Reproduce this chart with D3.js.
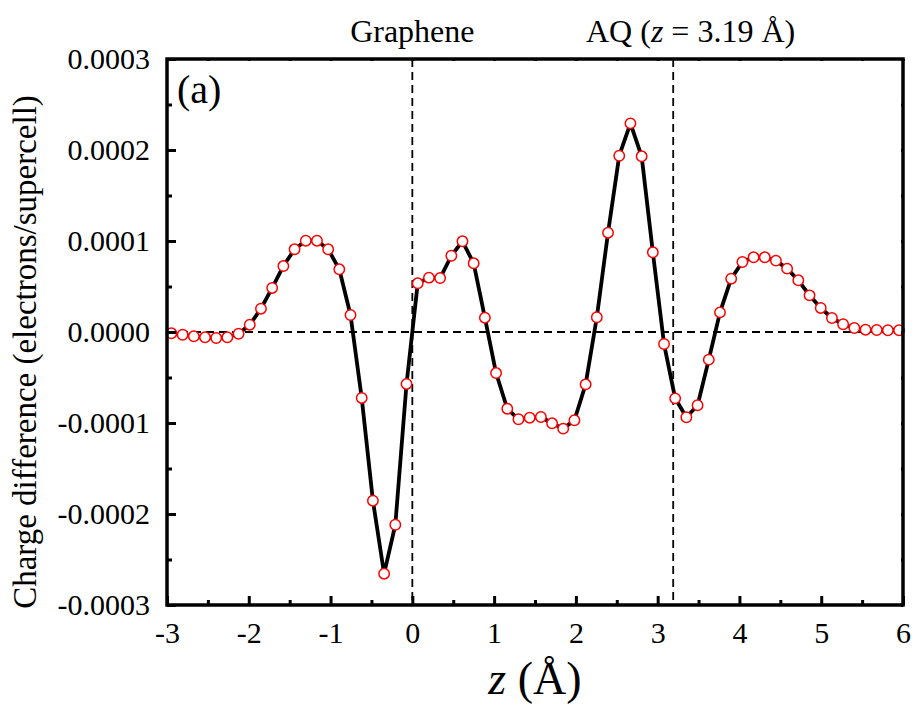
<!DOCTYPE html>
<html>
  <head>
    <meta charset="utf-8">
    <style>
      body {
        margin: 0;
        background: white;
        font-family: "Liberation Serif", "Times New Roman", serif;
      }
      svg text {
        font-family: "Liberation Serif", "Times New Roman", serif;
        fill: black;
      }
    </style>
    <script src="https://cdn.jsdelivr.net/npm/d3@7"></script>
  </head>
  <body>
    <svg id="chart"></svg>
  </body>
  <script>
    // z positions (Å) of the sampled points
    const zValues = [
      -2.946, -2.809, -2.672, -2.535, -2.398, -2.262, -2.125, -1.988, -1.851, -1.714,
      -1.577, -1.440, -1.303, -1.166, -1.029, -0.893, -0.756, -0.619, -0.482, -0.345,
      -0.208, -0.071, 0.066, 0.203, 0.340, 0.477, 0.613, 0.750, 0.887, 1.024,
      1.161, 1.298, 1.435, 1.572, 1.709, 1.845, 1.982, 2.119, 2.256, 2.393,
      2.530, 2.667, 2.804, 2.941, 3.078, 3.214, 3.351, 3.488, 3.625, 3.762,
      3.899, 4.036, 4.173, 4.310, 4.446, 4.583, 4.720, 4.857, 4.994, 5.131,
      5.268, 5.405, 5.542, 5.679, 5.815, 5.952
    ];
    // charge difference (electrons/supercell)
    const chargeDiff = [
      -0.014e-4, -0.030e-4, -0.047e-4, -0.058e-4, -0.066e-4, -0.058e-4, -0.019e-4, 0.080e-4, 0.256e-4, 0.484e-4,
      0.725e-4, 0.909e-4, 1.003e-4, 1.003e-4, 0.909e-4, 0.689e-4, 0.187e-4, -0.725e-4, -1.854e-4, -2.656e-4,
      -2.118e-4, -0.571e-4, 0.535e-4, 0.597e-4, 0.593e-4, 0.838e-4, 0.997e-4, 0.755e-4, 0.157e-4, -0.451e-4,
      -0.843e-4, -0.959e-4, -0.942e-4, -0.934e-4, -1.003e-4, -1.062e-4, -0.970e-4, -0.575e-4, 0.162e-4, 1.091e-4,
      1.937e-4, 2.293e-4, 1.931e-4, 0.876e-4, -0.132e-4, -0.729e-4, -0.937e-4, -0.805e-4, -0.304e-4, 0.216e-4,
      0.586e-4, 0.769e-4, 0.821e-4, 0.821e-4, 0.784e-4, 0.696e-4, 0.568e-4, 0.403e-4, 0.264e-4, 0.154e-4,
      0.085e-4, 0.044e-4, 0.025e-4, 0.022e-4, 0.019e-4, 0.019e-4
    ];

    const xTicks = [-3, -2, -1, 0, 1, 2, 3, 4, 5, 6];
    const xMinorTicks = [-2.5, -1.5, -0.5, 0.5, 1.5, 2.5, 3.5, 4.5, 5.5];
    const yTicks = [-0.0003, -0.0002, -0.0001, 0, 0.0001, 0.0002, 0.0003];
    const yMinorTicks = [-0.00025, -0.00015, -0.00005, 0.00005, 0.00015, 0.00025];
    const markerLines = [0, 3.19]; // graphene plane and AQ position

    let width = 915;
    let height = 706;
    let margin = { top: 59, left: 167, right: 12, bottom: 101 };
    let bodyWidth = width - margin.left - margin.right;
    let bodyHeight = height - margin.top - margin.bottom;
    let serif = '"Liberation Serif", "Times New Roman", serif';

    let svg = d3.select("#chart").attr("width", width).attr("height", height);
    let body = svg.append("g").attr("transform", `translate(${margin.left},${margin.top})`);

    let xScale = d3.scaleLinear().domain([-3, 6]).range([0, bodyWidth]);
    let yScale = d3.scaleLinear().domain([-0.0003, 0.0003]).range([bodyHeight, 0]);

    // dashed reference lines
    body.append("line")
      .attr("x1", 0).attr("x2", bodyWidth)
      .attr("y1", yScale(0)).attr("y2", yScale(0))
      .attr("stroke", "black").attr("stroke-width", 1.8)
      .attr("stroke-dasharray", "8,5");

    body.selectAll(".vline")
      .data(markerLines)
      .enter()
      .append("line")
      .attr("class", "vline")
      .attr("x1", (d) => xScale(d)).attr("x2", (d) => xScale(d))
      .attr("y1", 0).attr("y2", bodyHeight)
      .attr("stroke", "black").attr("stroke-width", 1.8)
      .attr("stroke-dasharray", "8,5");

    let points = zValues.map((z, i) => ({ z: z, v: chargeDiff[i] }));

    let line = d3.line()
      .x((d) => xScale(d.z))
      .y((d) => yScale(d.v));

    body.append("path")
      .datum(points)
      .attr("d", line)
      .attr("fill", "none")
      .attr("stroke", "black")
      .attr("stroke-width", 3.8)
      .attr("stroke-linejoin", "round");

    body.selectAll(".pt")
      .data(points)
      .enter()
      .append("circle")
      .attr("class", "pt")
      .attr("cx", (d) => xScale(d.z))
      .attr("cy", (d) => yScale(d.v))
      .attr("r", 5.2)
      .attr("fill", "white")
      .attr("stroke", "#ff0000")
      .attr("stroke-width", 1.5);

    // axes, ticks pointing inward
    function styleAxis(g) {
      g.attr("font-family", serif).attr("font-size", 30);
      g.select(".domain").remove();
      g.selectAll(".tick line").attr("stroke", "black").attr("stroke-width", 3);
      g.selectAll(".tick text").attr("fill", "black");
    }

    body.append("g")
      .attr("transform", `translate(0,${bodyHeight})`)
      .call(d3.axisBottom(xScale).tickValues(xTicks).tickSize(-9).tickPadding(17).tickFormat((d) => String(d)))
      .call(styleAxis);
    body.append("g")
      .attr("transform", `translate(0,${bodyHeight})`)
      .call(d3.axisBottom(xScale).tickValues(xMinorTicks).tickSize(-5).tickFormat(""))
      .call(styleAxis);

    body.append("g")
      .call(d3.axisLeft(yScale).tickValues(yTicks).tickSize(-9).tickPadding(17).tickFormat((d) => d.toFixed(4)))
      .call(styleAxis);
    body.append("g")
      .call(d3.axisLeft(yScale).tickValues(yMinorTicks).tickSize(-5).tickFormat(""))
      .call(styleAxis);

    body.append("g")
      .call(d3.axisTop(xScale).tickValues(xTicks.concat(xMinorTicks)).tickSize(-2).tickFormat(""))
      .call(styleAxis);
    body.append("g")
      .attr("transform", `translate(${bodyWidth},0)`)
      .call(d3.axisRight(yScale).tickValues(yTicks.concat(yMinorTicks)).tickSize(-2).tickFormat(""))
      .call(styleAxis);

    // frame
    body.append("rect")
      .attr("width", bodyWidth)
      .attr("height", bodyHeight)
      .attr("fill", "none")
      .attr("stroke", "black")
      .attr("stroke-width", 3.5);

    // panel label and annotations
    body.append("text")
      .attr("x", 10).attr("y", 44)
      .attr("font-size", 40)
      .text("(a)");

    svg.append("text")
      .attr("x", xScale(0) + margin.left).attr("y", 42)
      .attr("text-anchor", "middle")
      .attr("font-size", 32)
      .text("Graphene");

    let aq = svg.append("text")
      .attr("x", 586).attr("y", 42)
      .attr("font-size", 32);
    aq.append("tspan").text("AQ (");
    aq.append("tspan").attr("font-style", "italic").text("z");
    aq.append("tspan").text(" = 3.19 Å)");

    // axis titles
    let xt = svg.append("text")
      .attr("x", margin.left + bodyWidth / 2)
      .attr("y", 694)
      .attr("text-anchor", "middle")
      .attr("font-size", 46);
    xt.append("tspan").attr("font-style", "italic").text("z");
    xt.append("tspan").text(" (Å)");

    svg.append("text")
      .attr("transform", `translate(36,${margin.top + bodyHeight / 2 + 20}) rotate(-90)`)
      .attr("text-anchor", "middle")
      .attr("font-size", 33)
      .text("Charge difference (electrons/supercell)");
  </script>
</html>
